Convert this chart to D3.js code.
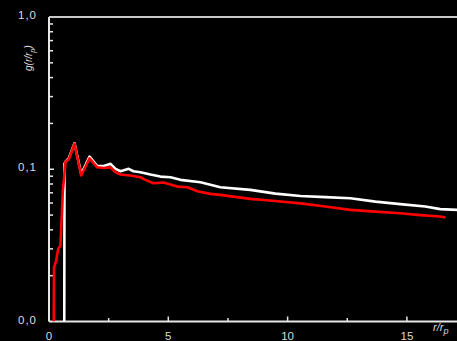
<!DOCTYPE html>
<html>
<head>
<meta charset="utf-8">
<script src="https://cdn.jsdelivr.net/npm/d3@7/dist/d3.min.js"></script>
<style>
  html, body { margin: 0; padding: 0; background: #000; }
  svg { display: block; }
  text { font-family: "Liberation Sans", Arial, sans-serif; }
</style>
</head>
<body>
<svg id="chart" width="457" height="341"></svg>
<script>
// Radial distribution g(r/r_p); zeros sit on the axis floor of the log scale.
const whiteR = [0.64, 0.65, 0.69, 0.83, 1.07, 1.35, 1.70, 2.02, 2.30, 2.58, 2.79, 3.00, 3.34, 3.54, 3.83, 4.25, 4.67, 5.09, 5.51, 6.35, 7.18, 8.44, 9.49, 10.54, 11.58, 12.63, 13.68, 14.72, 15.77, 16.40, 17.11];
const whiteG = [0, 0.109, 0.112, 0.118, 0.148, 0.093, 0.121, 0.105, 0.105, 0.1085, 0.1006, 0.097, 0.1006, 0.097, 0.0956, 0.0923, 0.0895, 0.0886, 0.0852, 0.0821, 0.0761, 0.0732, 0.0692, 0.0667, 0.0656, 0.0645, 0.0613, 0.059, 0.0569, 0.0547, 0.0541];

const redR = [0.20, 0.21, 0.30, 0.385, 0.48, 0.58, 0.62, 0.69, 0.83, 1.07, 1.35, 1.70, 2.02, 2.30, 2.58, 2.79, 3.00, 3.41, 3.83, 4.04, 4.38, 4.80, 5.09, 5.38, 5.80, 6.22, 6.76, 7.18, 8.44, 9.49, 10.54, 11.58, 12.63, 13.68, 14.72, 15.56, 16.40, 16.61];
const redG = [0, 0.0226, 0.025, 0.030, 0.0315, 0.072, 0.084, 0.112, 0.116, 0.147, 0.091, 0.118, 0.103, 0.102, 0.103, 0.0955, 0.0923, 0.091, 0.0886, 0.0852, 0.0809, 0.0818, 0.0793, 0.0769, 0.0762, 0.0717, 0.0689, 0.0679, 0.0639, 0.0618, 0.0597, 0.0569, 0.0541, 0.0527, 0.0514, 0.050, 0.0489, 0.0482];

const xMajor = [0, 5, 10, 15];
const xMinor = [2.5, 7.5, 12.5];
const yMajor = [1, 0.1, 0.01];
const yMajorLabels = ["1,0", "0,1", "0,0"];
const yMinor = [0.2, 0.3, 0.4, 0.5, 0.6, 0.7, 0.8, 0.9, 0.02, 0.03, 0.04, 0.05, 0.06, 0.07, 0.08, 0.09];

const svg = d3.select("#chart");
const plotLeft = 49, plotRight = 457, plotTop = 17, plotBottom = 321.5;

const x = d3.scaleLinear().domain([0, 17.1]).range([plotLeft, plotRight]);
const y = d3.scaleLog().domain([0.01, 1]).range([plotBottom, plotTop]);
const yMin = y.domain()[0];

const line = d3.line()
  .x(d => x(d[0]))
  .y(d => y(Math.max(d[1], yMin)));

const axisColor = "#e6e6e6";
const labelColor = "#dcdcdc";

// Frame: left spine, bottom spine, top edge
const frame = svg.append("g").attr("stroke", axisColor).attr("fill", "none");
frame.append("line").attr("x1", plotLeft).attr("x2", plotLeft).attr("y1", plotTop).attr("y2", plotBottom).attr("stroke-width", 2);
frame.append("line").attr("x1", plotLeft).attr("x2", plotRight).attr("y1", plotBottom).attr("y2", plotBottom).attr("stroke-width", 2);
frame.append("line").attr("x1", plotLeft).attr("x2", plotRight).attr("y1", plotTop).attr("y2", plotTop).attr("stroke-width", 2).attr("stroke", "#c8c8c8");

// Inward ticks
const ticks = svg.append("g").attr("stroke", axisColor).attr("stroke-width", 1.5);
ticks.selectAll(".xmaj").data(xMajor.slice(1)).join("line")
  .attr("x1", d => x(d)).attr("x2", d => x(d)).attr("y1", plotBottom).attr("y2", plotBottom - 5);
ticks.selectAll(".xmin").data(xMinor).join("line")
  .attr("x1", d => x(d)).attr("x2", d => x(d)).attr("y1", plotBottom).attr("y2", plotBottom - 3.5);
ticks.selectAll(".ymaj").data([0.1]).join("line")
  .attr("x1", plotLeft).attr("x2", plotLeft + 5).attr("y1", d => y(d)).attr("y2", d => y(d));
ticks.selectAll(".ymin").data(yMinor).join("line")
  .attr("x1", plotLeft).attr("x2", plotLeft + 4).attr("y1", d => y(d)).attr("y2", d => y(d));

// Tick labels
svg.append("g").selectAll("text").data(xMajor).join("text")
  .attr("x", d => x(d)).attr("y", 340)
  .attr("text-anchor", "middle")
  .attr("fill", labelColor).attr("font-size", 11.5)
  .text(d => d);

svg.append("g").selectAll("text").data(yMajor).join("text")
  .attr("x", 37).attr("y", d => y(d) - 1)
  .attr("text-anchor", "end")
  .attr("dominant-baseline", "middle")
  .attr("fill", labelColor).attr("font-size", 11.5)
  .attr("letter-spacing", 1)
  .text((d, i) => yMajorLabels[i]);

// Axis titles
const yTitle = svg.append("text")
  .attr("transform", "translate(32,71) rotate(-90)")
  .attr("fill", labelColor).attr("font-size", 10).attr("font-style", "italic");
yTitle.append("tspan").text("g(r/r");
yTitle.append("tspan").attr("font-size", 7.5).attr("dy", 2.5).text("p");
yTitle.append("tspan").attr("dy", -2.5).text(")");

const xTitle = svg.append("text")
  .attr("x", 433).attr("y", 331)
  .attr("fill", labelColor).attr("font-size", 11).attr("font-style", "italic");
xTitle.append("tspan").text("r/r");
xTitle.append("tspan").attr("font-size", 9).attr("dy", 3).text("p");

// Curves
svg.append("defs").append("clipPath").attr("id", "plot")
  .append("rect").attr("x", plotLeft).attr("y", plotTop).attr("width", plotRight - plotLeft).attr("height", plotBottom - plotTop);

const curves = svg.append("g").attr("clip-path", "url(#plot)");
curves.append("path")
  .datum(d3.zip(whiteR, whiteG))
  .attr("d", line)
  .attr("fill", "none").attr("stroke", "#ffffff").attr("stroke-width", 2.6)
  .attr("stroke-linejoin", "round");
curves.append("path")
  .datum(d3.zip(redR, redG))
  .attr("d", line)
  .attr("fill", "none").attr("stroke", "#ff0000").attr("stroke-width", 2.6)
  .attr("stroke-linejoin", "round");
</script>
</body>
</html>
